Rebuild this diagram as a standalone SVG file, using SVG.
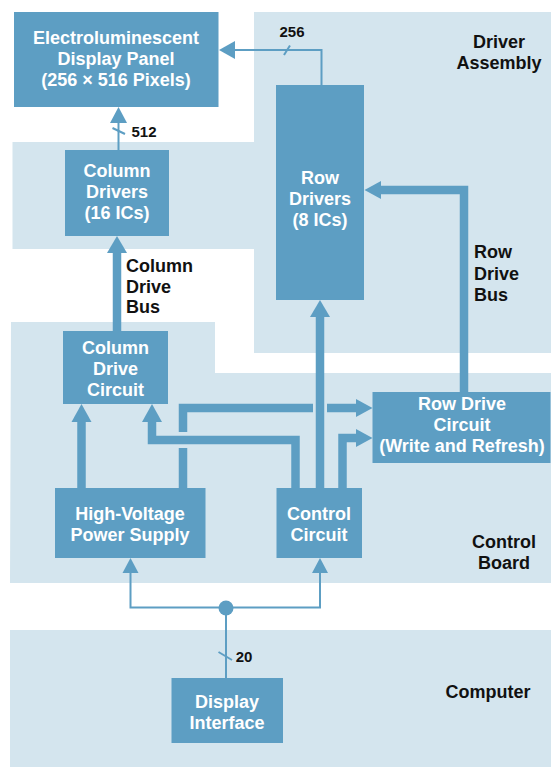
<svg xmlns="http://www.w3.org/2000/svg" width="551" height="767" viewBox="0 0 551 767">
<defs>
<style>
.bg{fill:#d4e5ee}
.node{fill:#5d9ec3}
.nt{font-family:"Liberation Sans",Arial,Helvetica,sans-serif;font-weight:bold;font-size:18px;fill:#ffffff;text-anchor:middle}
.lbl{font-family:"Liberation Sans",Arial,Helvetica,sans-serif;font-weight:bold;font-size:18px;fill:#111111}
.num{font-family:"Liberation Sans",Arial,Helvetica,sans-serif;font-weight:bold;font-size:15px;fill:#111111}
.thin{fill:none;stroke:#5d9ec3;stroke-width:2}
.thick{fill:none;stroke:#5d9ec3;stroke-width:8.5;stroke-linejoin:miter;stroke-linecap:butt}
.head{fill:#5d9ec3}
</style>
</defs>
<rect width="551" height="767" fill="#ffffff"/>
<g id="regions">
<path class="bg" d="M254,12 H551 V353 H254 V249 H12.5 V142 H254 Z"/>
<path class="bg" d="M11,322 H215 V373 H551 V583 H10 Z"/>
<rect class="bg" x="10" y="630" width="541" height="137"/>
<text class="lbl" x="499" y="48" text-anchor="middle">Driver</text>
<text class="lbl" x="499" y="69" text-anchor="middle">Assembly</text>
<text class="lbl" x="504" y="548" text-anchor="middle">Control</text>
<text class="lbl" x="504" y="569" text-anchor="middle">Board</text>
<text class="lbl" x="488" y="698" text-anchor="middle">Computer</text>
</g>
<g id="connectors">
<!-- 256 to panel -->
<polyline class="thin" points="321.5,85 321.5,50 234,50"/>
<polygon class="head" points="219,50 235,41 235,59"/>
<line class="thin" x1="284" y1="55" x2="290" y2="45.5"/>
<text class="num" x="292" y="37" text-anchor="middle">256</text>
<!-- 512 to panel -->
<line class="thin" x1="118.5" y1="150" x2="118.5" y2="122"/>
<polygon class="head" points="118.5,107 110,123 127,123"/>
<line class="thin" x1="112.5" y1="128" x2="125" y2="134"/>
<text class="num" x="144" y="137" text-anchor="middle">512</text>
<!-- column drive bus -->
<line class="thick" x1="117" y1="331" x2="117" y2="252"/>
<polygon class="head" points="117,236 107,253 127,253"/>
<text class="lbl" x="126" y="272">Column</text>
<text class="lbl" x="126" y="292.5">Drive</text>
<text class="lbl" x="126" y="313">Bus</text>
<!-- row drive bus -->
<polyline class="thick" points="464,392 464,190 380,190"/>
<polygon class="head" points="364.5,190 381,181 381,199"/>
<text class="lbl" x="474" y="258">Row</text>
<text class="lbl" x="474" y="280">Drive</text>
<text class="lbl" x="474" y="301">Bus</text>
<!-- control to row drivers -->
<line class="thick" x1="320" y1="488" x2="320" y2="316"/>
<polygon class="head" points="320,300 310,317 330,317"/>
<!-- HV to column drive circuit -->
<line class="thick" x1="81.5" y1="488" x2="81.5" y2="421"/>
<polygon class="head" points="81.5,404 71.5,422 91.5,422"/>
<!-- control to column drive circuit -->
<polyline class="thick" points="295.5,488 295.5,440 152,440 152,421"/>
<polygon class="head" points="152,404 142,422 162,422"/>
<!-- HV to row drive circuit (bridged) -->
<line class="thick" x1="183" y1="488" x2="183" y2="448"/>
<polyline class="thick" points="183,432 183,408 313,408"/>
<line class="thick" x1="327" y1="408" x2="357" y2="408"/>
<polygon class="head" points="372.5,408 356,399 356,417"/>
<!-- control to row drive circuit -->
<polyline class="thick" points="342.5,488 342.5,438 357,438"/>
<polygon class="head" points="372.5,438 356,429 356,447"/>
<!-- interface bus -->
<polyline class="thin" points="130.5,572 130.5,607.5 320,607.5 320,572"/>
<polygon class="head" points="130.5,558 122.5,573 138.5,573"/>
<polygon class="head" points="320,558 312,573 328,573"/>
<line class="thin" x1="226" y1="607.5" x2="226" y2="678"/>
<circle class="head" cx="226" cy="608" r="7.5"/>
<line class="thin" x1="218.5" y1="652" x2="232" y2="660"/>
<text class="num" x="244" y="662" text-anchor="middle">20</text>
</g>
<g id="panel">
<rect class="node" x="14" y="12" width="204.5" height="95"/>
<text class="nt" x="116" y="43.5">Electroluminescent</text>
<text class="nt" x="116" y="64.5">Display Panel</text>
<text class="nt" x="116" y="85.5">(256 × 516 Pixels)</text>
</g>
<g id="row-drivers">
<rect class="node" x="276" y="85" width="88" height="215"/>
<text class="nt" x="320" y="183.5">Row</text>
<text class="nt" x="320" y="204.5">Drivers</text>
<text class="nt" x="320" y="225.5">(8 ICs)</text>
</g>
<g id="column-drivers">
<rect class="node" x="65" y="150" width="104" height="86"/>
<text class="nt" x="117" y="176.5">Column</text>
<text class="nt" x="117" y="197.5">Drivers</text>
<text class="nt" x="117" y="218.5">(16 ICs)</text>
</g>
<g id="column-drive-circuit">
<rect class="node" x="63" y="331" width="105" height="73"/>
<text class="nt" x="115.5" y="354">Column</text>
<text class="nt" x="115.5" y="375">Drive</text>
<text class="nt" x="115.5" y="396">Circuit</text>
</g>
<g id="row-drive-circuit">
<rect class="node" x="372.5" y="392" width="178" height="71"/>
<text class="nt" x="462" y="410">Row Drive</text>
<text class="nt" x="462" y="431">Circuit</text>
<text class="nt" x="462" y="452">(Write and Refresh)</text>
</g>
<g id="hv-power-supply">
<rect class="node" x="55" y="488" width="150.5" height="70"/>
<text class="nt" x="130" y="520">High-Voltage</text>
<text class="nt" x="130" y="541">Power Supply</text>
</g>
<g id="control-circuit">
<rect class="node" x="276.5" y="488" width="85.5" height="70"/>
<text class="nt" x="319" y="520">Control</text>
<text class="nt" x="319" y="541">Circuit</text>
</g>
<g id="display-interface">
<rect class="node" x="171.5" y="678" width="111.5" height="65"/>
<text class="nt" x="227" y="708">Display</text>
<text class="nt" x="227" y="729">Interface</text>
</g>
</svg>
